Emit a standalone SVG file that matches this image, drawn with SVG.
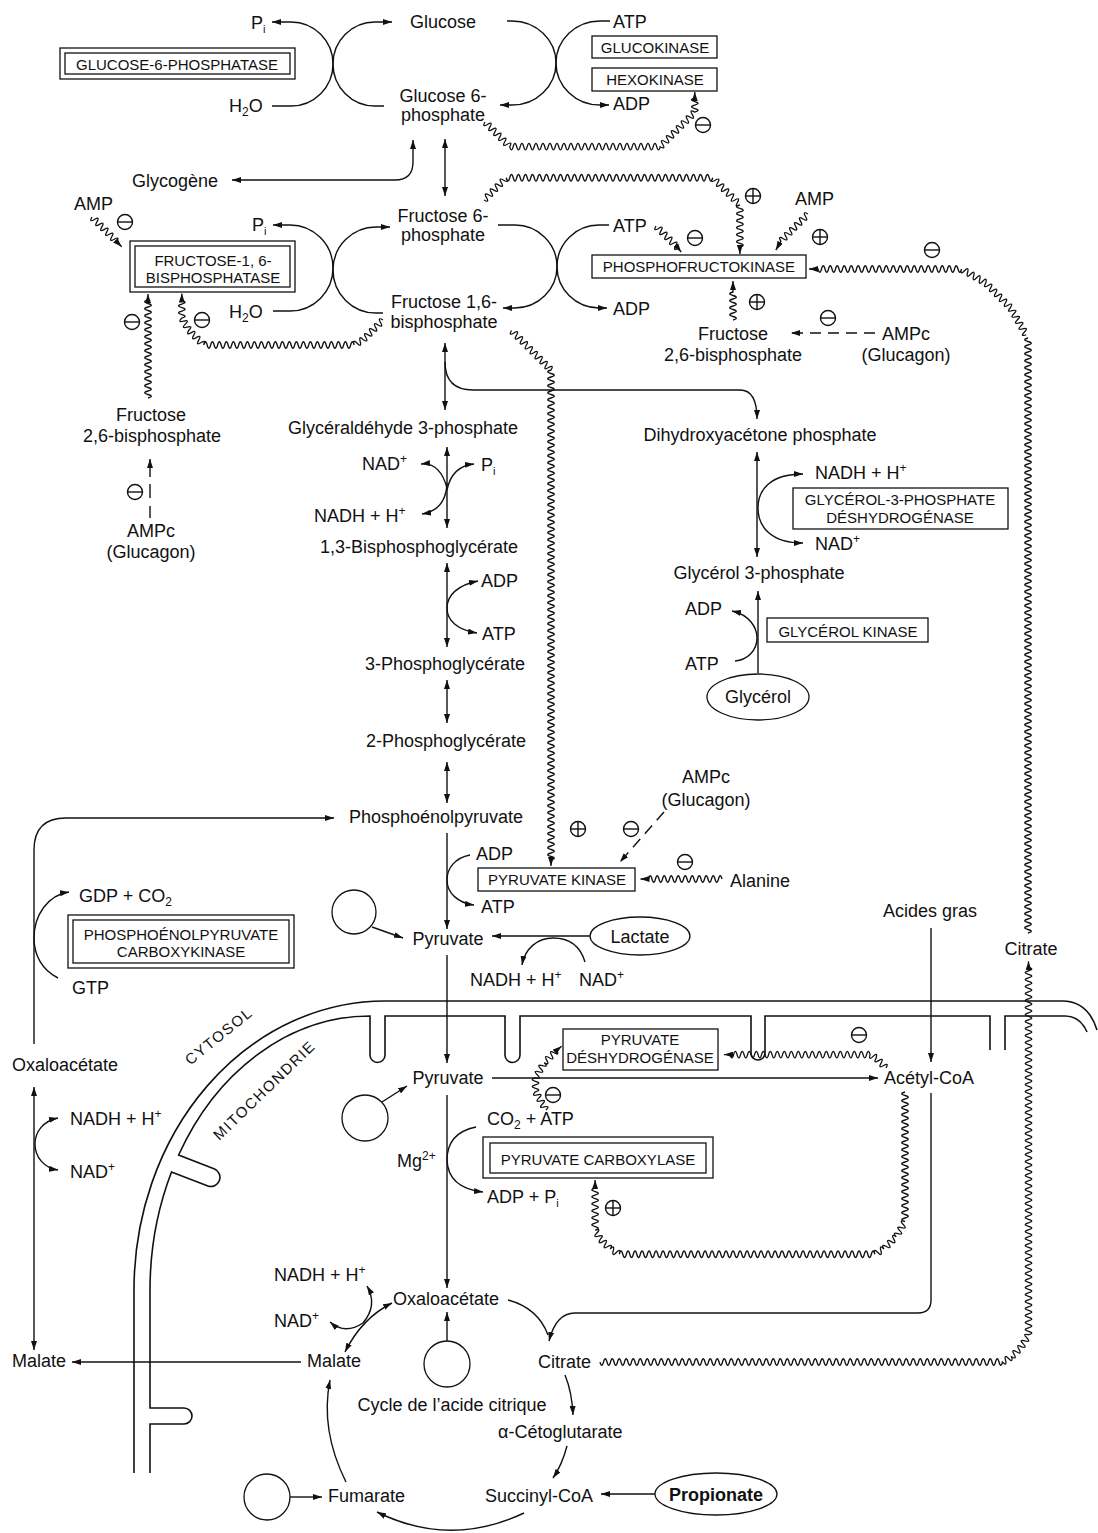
<svg xmlns="http://www.w3.org/2000/svg" width="1098" height="1533" viewBox="0 0 1098 1533">
<style>
text{font-family:"Liberation Sans",Arial,Helvetica,sans-serif;fill:#111}
.t{font-size:18px}
.e{font-size:15px}
.c{text-anchor:middle}
.ln{fill:none;stroke:#111;stroke-width:1.4}
.wv{fill:none;stroke:#111;stroke-width:1.3}
.bx{fill:none;stroke:#111;stroke-width:1.3}
.ds{stroke-dasharray:11 7}
.mem{fill:none;stroke:#111;stroke-width:1.6}
.rg{fill:none;stroke:#111;stroke-width:1.4}
</style>
<defs>
<marker id="ah" viewBox="0 0 9 6" refX="9" refY="3" markerWidth="9" markerHeight="6" markerUnits="userSpaceOnUse" orient="auto-start-reverse"><path d="M0,0 L9,3 L0,6 z" fill="#111"/></marker>
<g id="mn"><circle class="rg" r="7.5"/><line class="rg" x1="-7.5" y1="0" x2="7.5" y2="0"/></g>
<g id="pl"><circle class="rg" r="7.5"/><line class="rg" x1="-7.5" y1="0" x2="7.5" y2="0"/><line class="rg" x1="0" y1="-7.5" x2="0" y2="7.5"/></g>
</defs>
<rect width="1098" height="1533" fill="#fff"/>

<g id="mitochondrion">
<path class="mem" d="M1097,1030 Q1088,1001 1062,1001 H385 A251,289 0 0 0 134,1290 V1473"/>
<path class="mem" d="M1005,1050 V1016 H1065 Q1080,1016 1087,1032"/>
<path class="mem" d="M990,1050 V1016 H765 V1053 A7,7 0 0 1 751,1053 V1016 H520 V1055 A7.5,7.5 0 0 1 505,1055 V1016 H385 V1055 A7.5,7.5 0 0 1 370,1055 V1016 A220,274 0 0 0 178.6,1155 L214.6,1169 A9.2,9.2 0 0 1 207.9,1186.1 L171.5,1172 A220,274 0 0 0 150,1290 V1408 H184 A8,8 0 0 1 184,1424 H150 V1473"/>
<text class="e" font-size="16" letter-spacing="1.5" transform="translate(222,1040) rotate(-39)" text-anchor="middle">CYTOSOL</text>
<text class="e" font-size="16" letter-spacing="1.5" transform="translate(268,1094) rotate(-44)" text-anchor="middle">MITOCHONDRIE</text>
</g>

<g id="connectors">
<path class="ln" d="M272,22 H291 A42,42 0 0 1 291,106 H272" marker-start="url(#ah)"/>
<path class="ln" d="M392,22 H375 A42,42 0 0 0 375,106 H384" marker-start="url(#ah)"/>
<path class="ln" d="M507,21 H512 A44,42 0 0 1 512,105 H500" marker-end="url(#ah)"/>
<path class="ln" d="M610,21 H600 A44,42 0 0 0 600,105 H609" marker-end="url(#ah)"/>
<path class="ln" d="M232,180 H395 Q413,180 413,162 V140" marker-start="url(#ah)" marker-end="url(#ah)"/>
<line class="ln" x1="445" y1="139" x2="445" y2="196" marker-start="url(#ah)" marker-end="url(#ah)"/>
<path class="ln" d="M273,225 H290 A43,43 0 0 1 290,311 H273" marker-start="url(#ah)"/>
<path class="ln" d="M390,227 H376 A43,43 0 0 0 376,313 H383" marker-start="url(#ah)"/>
<path class="ln" d="M498,225 H515 A42,41.5 0 0 1 515,308 H503" marker-end="url(#ah)"/>
<path class="ln" d="M609,225 H599 A42,41.5 0 0 0 599,308 H607" marker-end="url(#ah)"/>
<line class="ln" x1="445" y1="343" x2="445" y2="410" marker-start="url(#ah)" marker-end="url(#ah)"/>
<path class="ln" d="M445,362 Q445,390 473,390 H740 Q757,390 757,419" marker-end="url(#ah)"/>
<line class="ln" x1="447" y1="447" x2="447" y2="528" marker-start="url(#ah)" marker-end="url(#ah)"/>
<path class="ln" d="M421,464 Q440,462 447,488" marker-start="url(#ah)"/>
<path class="ln" d="M447,490 Q452,466 474,464" marker-end="url(#ah)"/>
<path class="ln" d="M447,483 Q446,510 422,514" marker-end="url(#ah)"/>
<line class="ln" x1="447" y1="563" x2="447" y2="647" marker-start="url(#ah)" marker-end="url(#ah)"/>
<path class="ln" d="M478,581 C458,585 447,595 447,608 C447,621 458,630 477,633" marker-start="url(#ah)" marker-end="url(#ah)"/>
<line class="ln" x1="447" y1="680" x2="447" y2="723" marker-start="url(#ah)" marker-end="url(#ah)"/>
<line class="ln" x1="447" y1="762" x2="447" y2="803" marker-start="url(#ah)" marker-end="url(#ah)"/>
<line class="ln" x1="757" y1="452" x2="757" y2="557" marker-start="url(#ah)" marker-end="url(#ah)"/>
<path class="ln" d="M803,474 C770,474 758,490 758,508 C758,526 770,543 803,543" marker-start="url(#ah)" marker-end="url(#ah)"/>
<line class="ln" x1="758" y1="673" x2="758" y2="591" marker-end="url(#ah)"/>
<path class="ln" d="M732,611 C750,615 757,628 757,638 C757,651 747,660 735,661" marker-start="url(#ah)"/>
<line class="ln" x1="447" y1="833" x2="447" y2="929" marker-end="url(#ah)"/>
<path class="ln" d="M470,855 C455,858 447,868 447,880 C447,893 458,903 474,905" marker-end="url(#ah)"/>
<path class="ln" d="M34,1044 V850 Q34,818 66,818 H334" marker-end="url(#ah)"/>
<path class="ln" d="M58,978 C42,970 34,955 34,938 C34,915 48,895 69,892" marker-end="url(#ah)"/>
<line class="ln" x1="372" y1="927" x2="403" y2="938" marker-end="url(#ah)"/>
<line class="ln" x1="590" y1="936" x2="492" y2="936" marker-end="url(#ah)"/>
<path class="ln" d="M585,962 C580,945 568,938 553,938 C538,938 525,948 522,965" marker-end="url(#ah)"/>
<line class="ln" x1="447" y1="955" x2="447" y2="1063" marker-end="url(#ah)"/>
<line class="ln" x1="382" y1="1102" x2="407" y2="1086" marker-end="url(#ah)"/>
<line class="ln" x1="492" y1="1078" x2="878" y2="1078" marker-end="url(#ah)"/>
<line class="ln" x1="447" y1="1095" x2="447" y2="1288" marker-end="url(#ah)"/>
<path class="ln" d="M476,1127 Q447,1133 447,1160 Q448,1188 483,1192" marker-end="url(#ah)"/>
<line class="ln" x1="931" y1="928" x2="931" y2="1062" marker-end="url(#ah)"/>
<path class="ln" d="M931,1093 V1300 Q931,1313 918,1313 H575 Q556,1313 549,1341" marker-end="url(#ah)"/>
<path class="ln" d="M508,1300 Q538,1308 548,1335"/>
<line class="ln" x1="34" y1="1087" x2="34" y2="1350" marker-start="url(#ah)" marker-end="url(#ah)"/>
<path class="ln" d="M58,1118 C43,1121 35,1132 35,1144 C35,1157 44,1168 58,1170" marker-start="url(#ah)" marker-end="url(#ah)"/>
<line class="ln" x1="301" y1="1362" x2="72" y2="1362" marker-end="url(#ah)"/>
<path class="ln" d="M345,1352 Q362,1318 392,1303" marker-start="url(#ah)" marker-end="url(#ah)"/>
<path class="ln" d="M363,1323 Q378,1305 367,1286" marker-end="url(#ah)"/>
<path class="ln" d="M363,1323 Q345,1335 330,1322" marker-end="url(#ah)"/>
<line class="ln" x1="447" y1="1341" x2="447" y2="1312" marker-end="url(#ah)"/>
<path class="ln" d="M565,1375 Q572,1392 573,1415" marker-end="url(#ah)"/>
<path class="ln" d="M567,1446 Q562,1465 553,1478" marker-end="url(#ah)"/>
<path class="ln" d="M524,1513 Q450,1548 377,1512" marker-end="url(#ah)"/>
<path class="ln" d="M346,1482 Q320,1430 330,1380" marker-end="url(#ah)"/>
<line class="ln" x1="655" y1="1494" x2="601" y2="1494" marker-end="url(#ah)"/>
<line class="ln" x1="290" y1="1497" x2="322" y2="1497" marker-end="url(#ah)"/>
<line class="ln ds" x1="875" y1="333" x2="791" y2="333" marker-end="url(#ah)"/>
<line class="ln ds" x1="664" y1="812" x2="620" y2="862" marker-end="url(#ah)"/>
<line class="ln" x1="150" y1="518" x2="150" y2="506"/>
<line class="ln" x1="150" y1="498" x2="150" y2="484"/>
<line class="ln" x1="150" y1="477" x2="150" y2="459" marker-end="url(#ah)"/>

<path class="wv" d="M485,122 q-3.35,5.83 2.47,2.47 t2.47,2.47 2.47,2.47 2.47,2.47 2.47,2.47 2.47,2.47 2.47,2.47 2.47,2.47 2.47,2.47 2.47,2.47 q1.75,6.5 3.5,0 t3.5,0 3.5,0 3.5,0 3.5,0 3.5,0 3.5,0 3.5,0 3.5,0 3.5,0 3.5,0 3.5,0 3.5,0 3.5,0 3.5,0 3.5,0 3.5,0 3.5,0 3.5,0 3.5,0 3.5,0 3.5,0 3.5,0 3.5,0 3.5,0 3.5,0 3.5,0 3.5,0 3.5,0 3.5,0 3.5,0 3.5,0 3.5,0 3.5,0 3.5,0 3.5,0 3.5,0 3.5,0 3.5,0 3.5,0 3.5,0 3.5,0 3.5,0 q5.83,3.35 2.47,-2.47 t2.47,-2.47 2.47,-2.47 2.47,-2.47 2.47,-2.47 2.47,-2.47 2.47,-2.47 2.47,-2.47 2.47,-2.47 2.47,-2.47 2.47,-2.47 2.47,-2.47 2.47,-2.47 2.47,-2.47 q6.5,-1.75 0,-3.5 t0,-3.5 0,-3.5 0,-3.5 l0,-6" marker-end="url(#ah)"/>
<path class="wv" d="M484,200 q5.83,3.35 2.47,-2.47 t2.47,-2.47 2.47,-2.47 2.47,-2.47 2.47,-2.47 2.47,-2.47 2.47,-2.47 2.47,-2.47 2.47,-2.47 q1.75,6.5 3.5,0 t3.5,0 3.5,0 3.5,0 3.5,0 3.5,0 3.5,0 3.5,0 3.5,0 3.5,0 3.5,0 3.5,0 3.5,0 3.5,0 3.5,0 3.5,0 3.5,0 3.5,0 3.5,0 3.5,0 3.5,0 3.5,0 3.5,0 3.5,0 3.5,0 3.5,0 3.5,0 3.5,0 3.5,0 3.5,0 3.5,0 3.5,0 3.5,0 3.5,0 3.5,0 3.5,0 3.5,0 3.5,0 3.5,0 3.5,0 3.5,0 3.5,0 3.5,0 3.5,0 3.5,0 3.5,0 3.5,0 3.5,0 3.5,0 3.5,0 3.5,0 3.5,0 3.5,0 3.5,0 3.5,0 3.5,0 3.5,0 3.5,0 3.5,0 q-3.35,5.83 2.47,2.47 t2.47,2.47 2.47,2.47 2.47,2.47 2.47,2.47 2.47,2.47 2.47,2.47 2.47,2.47 2.47,2.47 2.47,2.47 2.47,2.47 q-6.5,1.75 0,3.5 t0,3.5 0,3.5 0,3.5 0,3.5 0,3.5 0,3.5 0,3.5 0,3.5 0,3.5 0,3.5 0,3.5 l0,7" marker-end="url(#ah)"/>
<path class="wv" d="M656,226 q-3.35,5.83 2.47,2.47 t2.47,2.47 2.47,2.47 2.47,2.47 2.47,2.47 2.47,2.47 2.47,2.47 2.47,2.47 2.47,2.47 l3,4" marker-end="url(#ah)"/>
<path class="wv" d="M808,214 q-5.83,-3.35 -2.47,2.47 t-2.47,2.47 -2.47,2.47 -2.47,2.47 -2.47,2.47 -2.47,2.47 -2.47,2.47 -2.47,2.47 -2.47,2.47 -2.47,2.47 -2.47,2.47 l-5,9" marker-end="url(#ah)"/>
<path class="wv" d="M809,269 l9,0 q1.75,6.5 3.5,0 t3.5,0 3.5,0 3.5,0 3.5,0 3.5,0  3.5,0 3.5,0 3.5,0 3.5,0 3.5,0  3.5,0 3.5,0 3.5,0 3.5,0 3.5,0  3.5,0 3.5,0 3.5,0 3.5,0
M888,269 q1.75,6.5 3.5,0 t3.5,0 3.5,0 3.5,0 3.5,0 3.5,0  3.5,0 3.5,0 3.5,0 3.5,0 3.5,0  3.5,0 3.5,0 3.5,0 3.5,0 3.5,0  3.5,0 3.5,0 3.5,0 3.5,0 3.5,0
q-1.74,6.5 3.03,1.75 t3.03,1.75 3.03,1.75 3.03,1.75 3.03,1.75 3.03,1.75 3.03,1.75 3.03,1.75
q-3.35,5.83 2.47,2.47 t2.47,2.47 2.47,2.47 2.47,2.47 2.47,2.47 2.47,2.47 2.47,2.47 2.47,2.47 2.47,2.47 2.47,2.47
q-4.75,4.77 1.75,3.03 t1.75,3.03 1.75,3.03 1.75,3.03 1.75,3.03 1.75,3.03 1.75,3.03 1.75,3.03 1.75,3.03
M1028,338 q-6.5,1.75 0,3.5 t0,3.5 0,3.5 0,3.5 0,3.5 0,3.5  0,3.5 0,3.5 0,3.5 0,3.5 0,3.5  0,3.5 0,3.5 0,3.5 0,3.5 0,3.5  0,3.5 0,3.5 0,3.5 0,3.5
M1028,408 q-6.5,1.75 0,3.5 t0,3.5 0,3.5 0,3.5 0,3.5 0,3.5  0,3.5 0,3.5 0,3.5 0,3.5 0,3.5  0,3.5 0,3.5 0,3.5 0,3.5 0,3.5  0,3.5 0,3.5 0,3.5 0,3.5
M1028,478 q-6.5,1.75 0,3.5 t0,3.5 0,3.5 0,3.5 0,3.5 0,3.5  0,3.5 0,3.5 0,3.5 0,3.5 0,3.5  0,3.5 0,3.5 0,3.5 0,3.5 0,3.5  0,3.5 0,3.5 0,3.5 0,3.5
M1028,548 q-6.5,1.75 0,3.5 t0,3.5 0,3.5 0,3.5 0,3.5 0,3.5  0,3.5 0,3.5 0,3.5 0,3.5 0,3.5  0,3.5 0,3.5 0,3.5 0,3.5 0,3.5  0,3.5 0,3.5 0,3.5 0,3.5
M1028,618 q-6.5,1.75 0,3.5 t0,3.5 0,3.5 0,3.5 0,3.5 0,3.5  0,3.5 0,3.5 0,3.5 0,3.5 0,3.5  0,3.5 0,3.5 0,3.5 0,3.5 0,3.5  0,3.5 0,3.5 0,3.5 0,3.5
M1028,688 q-6.5,1.75 0,3.5 t0,3.5 0,3.5 0,3.5 0,3.5 0,3.5  0,3.5 0,3.5 0,3.5 0,3.5 0,3.5  0,3.5 0,3.5 0,3.5 0,3.5 0,3.5  0,3.5 0,3.5 0,3.5 0,3.5
M1028,758 q-6.5,1.75 0,3.5 t0,3.5 0,3.5 0,3.5 0,3.5 0,3.5  0,3.5 0,3.5 0,3.5 0,3.5 0,3.5  0,3.5 0,3.5 0,3.5 0,3.5 0,3.5  0,3.5 0,3.5 0,3.5 0,3.5
M1028,828 q-6.5,1.75 0,3.5 t0,3.5 0,3.5 0,3.5 0,3.5 0,3.5  0,3.5 0,3.5 0,3.5 0,3.5 0,3.5  0,3.5 0,3.5 0,3.5 0,3.5 0,3.5  0,3.5 0,3.5 0,3.5 0,3.5
M1028,898 q-6.5,1.75 0,3.5 t0,3.5 0,3.5 0,3.5 0,3.5 0,3.5  0,3.5 0,3.5 0,3.5 0,3.5" marker-start="url(#ah)"/>
<path class="wv" d="M733,320 q6.5,-1.75 0,-3.5 t0,-3.5 0,-3.5 0,-3.5 0,-3.5 0,-3.5 0,-3.5 0,-3.5 l0,-11" marker-end="url(#ah)"/>
<path class="wv" d="M383,320 q-5.83,-3.35 -2.47,2.47 t-2.47,2.47 -2.47,2.47 -2.47,2.47 -2.47,2.47 -2.47,2.47 -2.47,2.47 -2.47,2.47 q-4.77,-4.75 -3.03,1.75 t-3.03,1.75 -3.03,1.75 q-1.75,-6.5 -3.5,0 t-3.5,0 -3.5,0 -3.5,0 -3.5,0 -3.5,0 -3.5,0 -3.5,0 -3.5,0 -3.5,0 -3.5,0 -3.5,0 -3.5,0 -3.5,0 -3.5,0 -3.5,0 -3.5,0 -3.5,0 -3.5,0 -3.5,0 -3.5,0 -3.5,0 -3.5,0 -3.5,0 -3.5,0 -3.5,0 -3.5,0 -3.5,0 -3.5,0 -3.5,0 -3.5,0 -3.5,0 -3.5,0 -3.5,0 -3.5,0 -3.5,0 -3.5,0 -3.5,0 -3.5,0 -3.5,0 -3.5,0 -3.5,0 -3.5,0 q3.35,-5.83 -2.47,-2.47 t-2.47,-2.47 -2.47,-2.47 -2.47,-2.47 -2.47,-2.47 -2.47,-2.47 q4.75,-4.77 -1.75,-3.03 t-1.75,-3.03 -1.75,-3.03 -1.75,-3.03 q6.5,-1.75 0,-3.5 t0,-3.5 0,-3.5 0,-3.5 0,-3.5 l0,-7" marker-end="url(#ah)"/>
<path class="wv" d="M148,398 q6.5,-1.75 0,-3.5 t0,-3.5 0,-3.5 0,-3.5 0,-3.5 0,-3.5 0,-3.5 0,-3.5 0,-3.5 0,-3.5 0,-3.5 0,-3.5 0,-3.5 0,-3.5 0,-3.5 0,-3.5 0,-3.5 0,-3.5 0,-3.5 0,-3.5 0,-3.5 0,-3.5 0,-3.5 0,-3.5 0,-3.5 0,-3.5 0,-3.5 0,-3.5 l0,-6" marker-end="url(#ah)"/>
<path class="wv" d="M92,217 q-3.35,5.83 2.47,2.47 t2.47,2.47 2.47,2.47 2.47,2.47 2.47,2.47 2.47,2.47 2.47,2.47 2.47,2.47 2.47,2.47 2.47,2.47 l5,5" marker-end="url(#ah)"/>
<path class="wv" d="M551,866 l0,-6 q6.5,-1.75 0,-3.5 t0,-3.5 0,-3.5 0,-3.5 0,-3.5 0,-3.5  0,-3.5 0,-3.5 0,-3.5 0,-3.5 0,-3.5  0,-3.5 0,-3.5 0,-3.5 0,-3.5 0,-3.5  0,-3.5 0,-3.5 0,-3.5 0,-3.5
M551,790 q6.5,-1.75 0,-3.5 t0,-3.5 0,-3.5 0,-3.5 0,-3.5 0,-3.5  0,-3.5 0,-3.5 0,-3.5 0,-3.5 0,-3.5  0,-3.5 0,-3.5 0,-3.5 0,-3.5 0,-3.5  0,-3.5 0,-3.5 0,-3.5 0,-3.5
M551,720 q6.5,-1.75 0,-3.5 t0,-3.5 0,-3.5 0,-3.5 0,-3.5 0,-3.5  0,-3.5 0,-3.5 0,-3.5 0,-3.5 0,-3.5  0,-3.5 0,-3.5 0,-3.5 0,-3.5 0,-3.5  0,-3.5 0,-3.5 0,-3.5 0,-3.5
M551,650 q6.5,-1.75 0,-3.5 t0,-3.5 0,-3.5 0,-3.5 0,-3.5 0,-3.5  0,-3.5 0,-3.5 0,-3.5 0,-3.5 0,-3.5  0,-3.5 0,-3.5 0,-3.5 0,-3.5 0,-3.5  0,-3.5 0,-3.5 0,-3.5 0,-3.5
M551,580 q6.5,-1.75 0,-3.5 t0,-3.5 0,-3.5 0,-3.5 0,-3.5 0,-3.5  0,-3.5 0,-3.5 0,-3.5 0,-3.5 0,-3.5  0,-3.5 0,-3.5 0,-3.5 0,-3.5 0,-3.5  0,-3.5 0,-3.5 0,-3.5 0,-3.5
M551,510 q6.5,-1.75 0,-3.5 t0,-3.5 0,-3.5 0,-3.5 0,-3.5 0,-3.5  0,-3.5 0,-3.5 0,-3.5 0,-3.5 0,-3.5  0,-3.5 0,-3.5 0,-3.5 0,-3.5 0,-3.5  0,-3.5 0,-3.5 0,-3.5 0,-3.5
M551,440 q6.5,-1.75 0,-3.5 t0,-3.5 0,-3.5 0,-3.5 0,-3.5 0,-3.5  0,-3.5 0,-3.5 0,-3.5 0,-3.5 0,-3.5  0,-3.5 0,-3.5 0,-3.5 0,-3.5 0,-3.5  0,-3.5 0,-3.5 0,-3.5 0,-3.5
q3.35,-5.83 -2.47,-2.47 t-2.47,-2.47 -2.47,-2.47 -2.47,-2.47 -2.47,-2.47 -2.47,-2.47  -2.47,-2.47 -2.47,-2.47 -2.47,-2.47 -2.47,-2.47 -2.47,-2.47  -2.47,-2.47 -2.47,-2.47 -2.47,-2.47 -2.47,-2.47 -2.47,-2.47" marker-start="url(#ah)"/>
<path class="wv" d="M722,879 q-1.75,-6.5 -3.5,0 t-3.5,0 -3.5,0 -3.5,0 -3.5,0 -3.5,0 -3.5,0 -3.5,0 -3.5,0 -3.5,0 -3.5,0 -3.5,0 -3.5,0 -3.5,0 -3.5,0 -3.5,0 -3.5,0 -3.5,0 -3.5,0 -3.5,0 -3.5,0 l-8,0" marker-end="url(#ah)"/>
<path class="wv" d="M886,1068 q3.35,-5.83 -2.47,-2.47 t-2.47,-2.47 -2.47,-2.47 -2.47,-2.47 q1.74,-6.5 -3.03,-1.75 t-3.03,-1.75 q-1.75,-6.5 -3.5,0 t-3.5,0 -3.5,0 -3.5,0 -3.5,0 -3.5,0 -3.5,0 -3.5,0 -3.5,0 -3.5,0 -3.5,0 -3.5,0 -3.5,0 -3.5,0 -3.5,0 -3.5,0 -3.5,0 -3.5,0 -3.5,0 -3.5,0 -3.5,0 -3.5,0 -3.5,0 -3.5,0 -3.5,0 -3.5,0 -3.5,0 -3.5,0 -3.5,0 -3.5,0 -3.5,0 -3.5,0 -3.5,0 -3.5,0 -3.5,0 -3.5,0 -3.5,0 -3.5,0 -3.5,0 -3.5,0 l-6,0" marker-end="url(#ah)"/>
<path class="wv" d="M546,1110 q4.75,-4.77 -1.75,-3.03 t-1.75,-3.03 -1.75,-3.03 -1.75,-3.03 -1.75,-3.03 -1.75,-3.03 q6.5,-1.75 0,-3.5 t0,-3.5 0,-3.5 0,-3.5 q6.5,1.74 1.75,-3.03 t1.75,-3.03 1.75,-3.03 1.75,-3.03 1.75,-3.03 q5.83,3.35 2.47,-2.47 t2.47,-2.47 2.47,-2.47 2.47,-2.47 2.47,-2.47 l5,-4" marker-end="url(#ah)"/>
<path class="wv" d="M905,1092 q-6.5,1.75 0,3.5 t0,3.5 0,3.5 0,3.5 0,3.5 0,3.5 0,3.5 0,3.5 0,3.5 0,3.5 0,3.5 0,3.5 0,3.5 0,3.5 0,3.5 0,3.5 0,3.5 0,3.5 0,3.5 0,3.5 0,3.5 0,3.5 0,3.5 0,3.5 0,3.5 0,3.5 0,3.5 0,3.5 0,3.5 0,3.5 0,3.5 0,3.5 0,3.5 0,3.5 0,3.5 0,3.5 0,3.5 q-6.5,-1.74 -1.75,3.03 t-1.75,3.03 -1.75,3.03 -1.75,3.03 -1.75,3.03 q-5.83,-3.35 -2.47,2.47 t-2.47,2.47 -2.47,2.47 -2.47,2.47 -2.47,2.47 q-4.77,-4.75 -3.03,1.75 t-3.03,1.75 -3.03,1.75 q-1.75,-6.5 -3.5,0 t-3.5,0 -3.5,0 -3.5,0 -3.5,0 -3.5,0 -3.5,0 -3.5,0 -3.5,0 -3.5,0 -3.5,0 -3.5,0 -3.5,0 -3.5,0 -3.5,0 -3.5,0 -3.5,0 -3.5,0 -3.5,0 -3.5,0 -3.5,0 -3.5,0 -3.5,0 -3.5,0 -3.5,0 -3.5,0 -3.5,0 -3.5,0 -3.5,0 -3.5,0 -3.5,0 -3.5,0 -3.5,0 -3.5,0 -3.5,0 -3.5,0 -3.5,0 -3.5,0 -3.5,0 -3.5,0 -3.5,0 -3.5,0 -3.5,0 -3.5,0 -3.5,0 -3.5,0 -3.5,0 -3.5,0 -3.5,0 -3.5,0 -3.5,0 -3.5,0 -3.5,0 -3.5,0 -3.5,0 -3.5,0 -3.5,0 -3.5,0 -3.5,0 -3.5,0 -3.5,0 -3.5,0 -3.5,0 -3.5,0 -3.5,0 -3.5,0 -3.5,0 -3.5,0 -3.5,0 -3.5,0 -3.5,0 -3.5,0 -3.5,0 q1.74,-6.5 -3.03,-1.75 t-3.03,-1.75 -3.03,-1.75 q3.35,-5.83 -2.47,-2.47 t-2.47,-2.47 -2.47,-2.47 -2.47,-2.47 q4.75,-4.77 -1.75,-3.03 t-1.75,-3.03 -1.75,-3.03 q6.5,-1.75 0,-3.5 t0,-3.5 0,-3.5 0,-3.5 0,-3.5 0,-3.5 0,-3.5 0,-3.5 0,-3.5 0,-3.5 0,-3.5 0,-3.5 l0,-8" marker-end="url(#ah)"/>
<path class="wv" d="M600,1362 q1.75,6.5 3.5,0 t3.5,0 3.5,0 3.5,0 3.5,0 3.5,0  3.5,0 3.5,0 3.5,0 3.5,0 3.5,0  3.5,0 3.5,0 3.5,0 3.5,0 3.5,0  3.5,0 3.5,0 3.5,0 3.5,0
M670,1362 q1.75,6.5 3.5,0 t3.5,0 3.5,0 3.5,0 3.5,0 3.5,0  3.5,0 3.5,0 3.5,0 3.5,0 3.5,0  3.5,0 3.5,0 3.5,0 3.5,0 3.5,0  3.5,0 3.5,0 3.5,0 3.5,0
M740,1362 q1.75,6.5 3.5,0 t3.5,0 3.5,0 3.5,0 3.5,0 3.5,0  3.5,0 3.5,0 3.5,0 3.5,0 3.5,0  3.5,0 3.5,0 3.5,0 3.5,0 3.5,0  3.5,0 3.5,0 3.5,0 3.5,0
M810,1362 q1.75,6.5 3.5,0 t3.5,0 3.5,0 3.5,0 3.5,0 3.5,0  3.5,0 3.5,0 3.5,0 3.5,0 3.5,0  3.5,0 3.5,0 3.5,0 3.5,0 3.5,0  3.5,0 3.5,0 3.5,0 3.5,0
M880,1362 q1.75,6.5 3.5,0 t3.5,0 3.5,0 3.5,0 3.5,0 3.5,0  3.5,0 3.5,0 3.5,0 3.5,0 3.5,0  3.5,0 3.5,0 3.5,0 3.5,0 3.5,0  3.5,0 3.5,0 3.5,0 3.5,0
M950,1362 q1.75,6.5 3.5,0 t3.5,0 3.5,0 3.5,0 3.5,0 3.5,0  3.5,0 3.5,0 3.5,0 3.5,0 3.5,0  3.5,0 3.5,0 3.5,0 3.5,0
q4.77,4.75 3.03,-1.75 t3.03,-1.75 3.03,-1.75
q5.83,3.35 2.47,-2.47 t2.47,-2.47 2.47,-2.47 2.47,-2.47
q6.5,1.74 1.75,-3.03 t1.75,-3.03 1.75,-3.03 1.75,-3.03
M1028.5,1334.8 q6.5,-1.75 0,-3.5 t0,-3.5 0,-3.5 0,-3.5 0,-3.5 0,-3.5  0,-3.5 0,-3.5 0,-3.5 0,-3.5 0,-3.5  0,-3.5 0,-3.5 0,-3.5 0,-3.5 0,-3.5  0,-3.5 0,-3.5 0,-3.5 0,-3.5
M1028.5,1264.8 q6.5,-1.75 0,-3.5 t0,-3.5 0,-3.5 0,-3.5 0,-3.5 0,-3.5  0,-3.5 0,-3.5 0,-3.5 0,-3.5 0,-3.5  0,-3.5 0,-3.5 0,-3.5 0,-3.5 0,-3.5  0,-3.5 0,-3.5 0,-3.5 0,-3.5
M1028.5,1194.8 q6.5,-1.75 0,-3.5 t0,-3.5 0,-3.5 0,-3.5 0,-3.5 0,-3.5  0,-3.5 0,-3.5 0,-3.5 0,-3.5 0,-3.5  0,-3.5 0,-3.5 0,-3.5 0,-3.5 0,-3.5  0,-3.5 0,-3.5 0,-3.5 0,-3.5
M1028.5,1124.8 q6.5,-1.75 0,-3.5 t0,-3.5 0,-3.5 0,-3.5 0,-3.5 0,-3.5  0,-3.5 0,-3.5 0,-3.5 0,-3.5 0,-3.5  0,-3.5 0,-3.5 0,-3.5 0,-3.5 0,-3.5  0,-3.5 0,-3.5 0,-3.5 0,-3.5
M1028.5,1054.8 q6.5,-1.75 0,-3.5 t0,-3.5 0,-3.5 0,-3.5 0,-3.5 0,-3.5  0,-3.5 0,-3.5 0,-3.5 0,-3.5 0,-3.5  0,-3.5 0,-3.5 0,-3.5 0,-3.5 0,-3.5  0,-3.5 0,-3.5 0,-3.5 0,-3.5
M1028.5,984.8 q6.5,-1.75 0,-3.5 t0,-3.5 0,-3.5 0,-3.5 0,-3.5 l0,-6" marker-end="url(#ah)"/>
</g>

<g id="regulation">
<use href="#mn" x="703" y="125"/>
<use href="#mn" x="125" y="222"/>
<use href="#pl" x="753" y="196"/>
<use href="#mn" x="695" y="238"/>
<use href="#pl" x="820" y="237"/>
<use href="#mn" x="932" y="250"/>
<use href="#mn" x="132" y="322"/>
<use href="#mn" x="202" y="320"/>
<use href="#pl" x="757" y="302"/>
<use href="#mn" x="828" y="318"/>
<use href="#mn" x="135" y="492"/>
<use href="#pl" x="578" y="829"/>
<use href="#mn" x="631" y="829"/>
<use href="#mn" x="685" y="862"/>
<use href="#mn" x="859" y="1035"/>
<use href="#mn" x="553" y="1095"/>
<use href="#pl" x="613" y="1208"/>
</g>

<g id="n-pi1"><text class="t" x="251" y="29">P<tspan font-size="11" dy="4">i</tspan></text></g>
<g id="n-glucose"><text class="t c" x="443" y="28">Glucose</text></g>
<g id="n-atp1"><text class="t" x="613" y="28">ATP</text></g>
<g id="n-g6pase"><rect class="bx" x="60" y="48" width="235" height="31"/><rect class="bx" x="65" y="53" width="225" height="21"/><text class="e c" x="177" y="70">GLUCOSE-6-PHOSPHATASE</text></g>
<g id="n-glucokinase"><rect class="bx" x="592" y="36" width="125" height="22"/><text class="e c" x="655" y="53">GLUCOKINASE</text></g>
<g id="n-hexokinase"><rect class="bx" x="592" y="68" width="125" height="23"/><text class="e c" x="655" y="85">HEXOKINASE</text></g>
<g id="n-h2o1"><text class="t" x="229" y="112">H<tspan font-size="12" dy="4">2</tspan><tspan dy="-4">O</tspan></text></g>
<g id="n-g6p"><text class="t c" x="443" y="102">Glucose 6-</text><text class="t c" x="443" y="121">phosphate</text></g>
<g id="n-adp1"><text class="t" x="613" y="110">ADP</text></g>
<g id="n-glycogene"><text class="t" x="218" y="187" text-anchor="end">Glycogène</text></g>
<g id="n-amp1"><text class="t" x="74" y="210">AMP</text></g>
<g id="n-pi2"><text class="t" x="252" y="231">P<tspan font-size="11" dy="4">i</tspan></text></g>
<g id="n-f6p"><text class="t c" x="443" y="222">Fructose 6-</text><text class="t c" x="443" y="241">phosphate</text></g>
<g id="n-atp2"><text class="t" x="613" y="232">ATP</text></g>
<g id="n-amp2"><text class="t" x="795" y="205">AMP</text></g>
<g id="n-fbpase"><rect class="bx" x="130" y="241" width="165" height="51"/><rect class="bx" x="135" y="246" width="155" height="41"/><text class="e c" x="213" y="266">FRUCTOSE-1, 6-</text><text class="e c" x="213" y="283">BISPHOSPHATASE</text></g>
<g id="n-pfk"><rect class="bx" x="592" y="255" width="214" height="23"/><text class="e c" x="699" y="272">PHOSPHOFRUCTOKINASE</text></g>
<g id="n-h2o2"><text class="t" x="229" y="318">H<tspan font-size="12" dy="4">2</tspan><tspan dy="-4">O</tspan></text></g>
<g id="n-adp2"><text class="t" x="613" y="315">ADP</text></g>
<g id="n-f16bp"><text class="t c" x="444" y="308">Fructose 1,6-</text><text class="t c" x="444" y="328">bisphosphate</text></g>
<g id="n-f26bp-r"><text class="t c" x="733" y="340">Fructose</text><text class="t c" x="733" y="361">2,6-bisphosphate</text></g>
<g id="n-ampc-r"><text class="t" x="882" y="340">AMPc</text><text class="t c" x="906" y="361">(Glucagon)</text></g>
<g id="n-f26bp-l"><text class="t c" x="151" y="421">Fructose</text><text class="t c" x="152" y="442">2,6-bisphosphate</text></g>
<g id="n-ampc-l"><text class="t c" x="151" y="537">AMPc</text><text class="t c" x="151" y="558">(Glucagon)</text></g>
<g id="n-gap"><text class="t c" x="403" y="434">Glycéraldéhyde 3-phosphate</text></g>
<g id="n-dhap"><text class="t c" x="760" y="441">Dihydroxyacétone phosphate</text></g>
<g id="n-nad-g"><text class="t" x="362" y="470">NAD<tspan font-size="12" dy="-7">+</tspan></text></g>
<g id="n-pi3"><text class="t" x="481" y="471">P<tspan font-size="11" dy="4">i</tspan></text></g>
<g id="n-nadh-g"><text class="t" x="314" y="522">NADH + H<tspan font-size="12" dy="-7">+</tspan></text></g>
<g id="n-13bpg"><text class="t c" x="419" y="553">1,3-Bisphosphoglycérate</text></g>
<g id="n-nadh-d"><text class="t" x="815" y="479">NADH + H<tspan font-size="12" dy="-7">+</tspan></text></g>
<g id="n-g3pdh"><rect class="bx" x="793" y="488" width="215" height="41"/><text class="e c" x="900" y="505">GLYCÉROL-3-PHOSPHATE</text><text class="e c" x="900" y="523">DÉSHYDROGÉNASE</text></g>
<g id="n-nad-d"><text class="t" x="815" y="550">NAD<tspan font-size="12" dy="-7">+</tspan></text></g>
<g id="n-g3p"><text class="t c" x="759" y="579">Glycérol 3-phosphate</text></g>
<g id="n-adp-gk"><text class="t" x="685" y="615">ADP</text></g>
<g id="n-gk"><rect class="bx" x="767" y="618" width="161" height="24"/><text class="e c" x="848" y="637">GLYCÉROL KINASE</text></g>
<g id="n-atp-gk"><text class="t" x="685" y="670">ATP</text></g>
<g id="n-glycerol"><ellipse class="bx" cx="758" cy="697" rx="51" ry="23"/><text class="t c" x="758" y="703">Glycérol</text></g>
<g id="n-adp3"><text class="t" x="481" y="587">ADP</text></g>
<g id="n-atp3"><text class="t" x="482" y="640">ATP</text></g>
<g id="n-3pg"><text class="t c" x="445" y="670">3-Phosphoglycérate</text></g>
<g id="n-2pg"><text class="t c" x="446" y="747">2-Phosphoglycérate</text></g>
<g id="n-pep"><text class="t c" x="436" y="823">Phosphoénolpyruvate</text></g>
<g id="n-ampc-pk"><text class="t c" x="706" y="783">AMPc</text><text class="t c" x="706" y="806">(Glucagon)</text></g>
<g id="n-adp-pk"><text class="t" x="476" y="860">ADP</text></g>
<g id="n-pk"><rect class="bx" x="478" y="868" width="157" height="23"/><text class="e c" x="557" y="885">PYRUVATE KINASE</text></g>
<g id="n-atp-pk"><text class="t" x="481" y="913">ATP</text></g>
<g id="n-alanine"><text class="t" x="730" y="887">Alanine</text></g>
<g id="n-circle-pc"><circle class="bx" cx="354" cy="912" r="22"/></g>
<g id="n-pyr-c"><text class="t c" x="448" y="945">Pyruvate</text></g>
<g id="n-lactate"><ellipse class="bx" cx="640" cy="936" rx="50" ry="19"/><text class="t c" x="640" y="943">Lactate</text></g>
<g id="n-nadh-l"><text class="t" x="470" y="986">NADH + H<tspan font-size="12" dy="-7">+</tspan></text></g>
<g id="n-nad-l"><text class="t" x="579" y="986">NAD<tspan font-size="12" dy="-7">+</tspan></text></g>
<g id="n-gdp"><text class="t" x="79" y="902">GDP + CO<tspan font-size="12" dy="4">2</tspan></text></g>
<g id="n-pepck"><rect class="bx" x="68" y="915" width="226" height="53"/><rect class="bx" x="73" y="920" width="216" height="43"/><text class="e c" x="181" y="940">PHOSPHOÉNOLPYRUVATE</text><text class="e c" x="181" y="957">CARBOXYKINASE</text></g>
<g id="n-gtp"><text class="t" x="72" y="994">GTP</text></g>
<g id="n-acides"><text class="t c" x="930" y="917">Acides gras</text></g>
<g id="n-citrate-c"><text class="t c" x="1031" y="955">Citrate</text></g>
<g id="n-oaa-c"><text class="t" x="12" y="1071">Oxaloacétate</text></g>
<g id="n-pyr-m"><text class="t c" x="448" y="1084">Pyruvate</text></g>
<g id="n-circle-pm"><circle class="bx" cx="365" cy="1118" r="23"/></g>
<g id="n-pdh"><rect class="bx" x="563" y="1029" width="155" height="41"/><text class="e c" x="640" y="1045">PYRUVATE</text><text class="e c" x="640" y="1063">DÉSHYDROGÉNASE</text></g>
<g id="n-acetyl"><text class="t" x="884" y="1084">Acétyl-CoA</text></g>
<g id="n-co2atp"><text class="t" x="487" y="1125">CO<tspan font-size="12" dy="4">2</tspan><tspan dy="-4"> + ATP</tspan></text></g>
<g id="n-mg"><text class="t" x="397" y="1167">Mg<tspan font-size="12" dy="-7">2+</tspan></text></g>
<g id="n-pc"><rect class="bx" x="483" y="1137" width="230" height="41"/><rect class="bx" x="490" y="1143" width="216" height="30"/><text class="e c" x="598" y="1165">PYRUVATE CARBOXYLASE</text></g>
<g id="n-adppi"><text class="t" x="487" y="1203">ADP + P<tspan font-size="11" dy="4">i</tspan></text></g>
<g id="n-nadh-m"><text class="t" x="70" y="1125">NADH + H<tspan font-size="12" dy="-7">+</tspan></text></g>
<g id="n-nad-m"><text class="t" x="70" y="1178">NAD<tspan font-size="12" dy="-7">+</tspan></text></g>
<g id="n-malate-c"><text class="t" x="12" y="1367">Malate</text></g>
<g id="n-nadh-t"><text class="t" x="274" y="1281">NADH + H<tspan font-size="12" dy="-7">+</tspan></text></g>
<g id="n-nad-t"><text class="t" x="274" y="1327">NAD<tspan font-size="12" dy="-7">+</tspan></text></g>
<g id="n-oaa-m"><text class="t" x="393" y="1305">Oxaloacétate</text></g>
<g id="n-malate-m"><text class="t" x="307" y="1367">Malate</text></g>
<g id="n-citrate-m"><text class="t" x="538" y="1368">Citrate</text></g>
<g id="n-circle-tca"><circle class="bx" cx="447" cy="1364" r="23"/></g>
<g id="n-cycle"><text class="t c" x="452" y="1411">Cycle de l’acide citrique</text></g>
<g id="n-akg"><text class="t" x="498" y="1438">α-Cétoglutarate</text></g>
<g id="n-succ"><text class="t" x="485" y="1502">Succinyl-CoA</text></g>
<g id="n-propionate"><ellipse class="bx" cx="716" cy="1494" rx="61" ry="21"/><text class="t c" x="716" y="1501" font-weight="bold">Propionate</text></g>
<g id="n-circle-fum"><circle class="bx" cx="267" cy="1497" r="23"/></g>
<g id="n-fumarate"><text class="t" x="328" y="1502">Fumarate</text></g>
</svg>
